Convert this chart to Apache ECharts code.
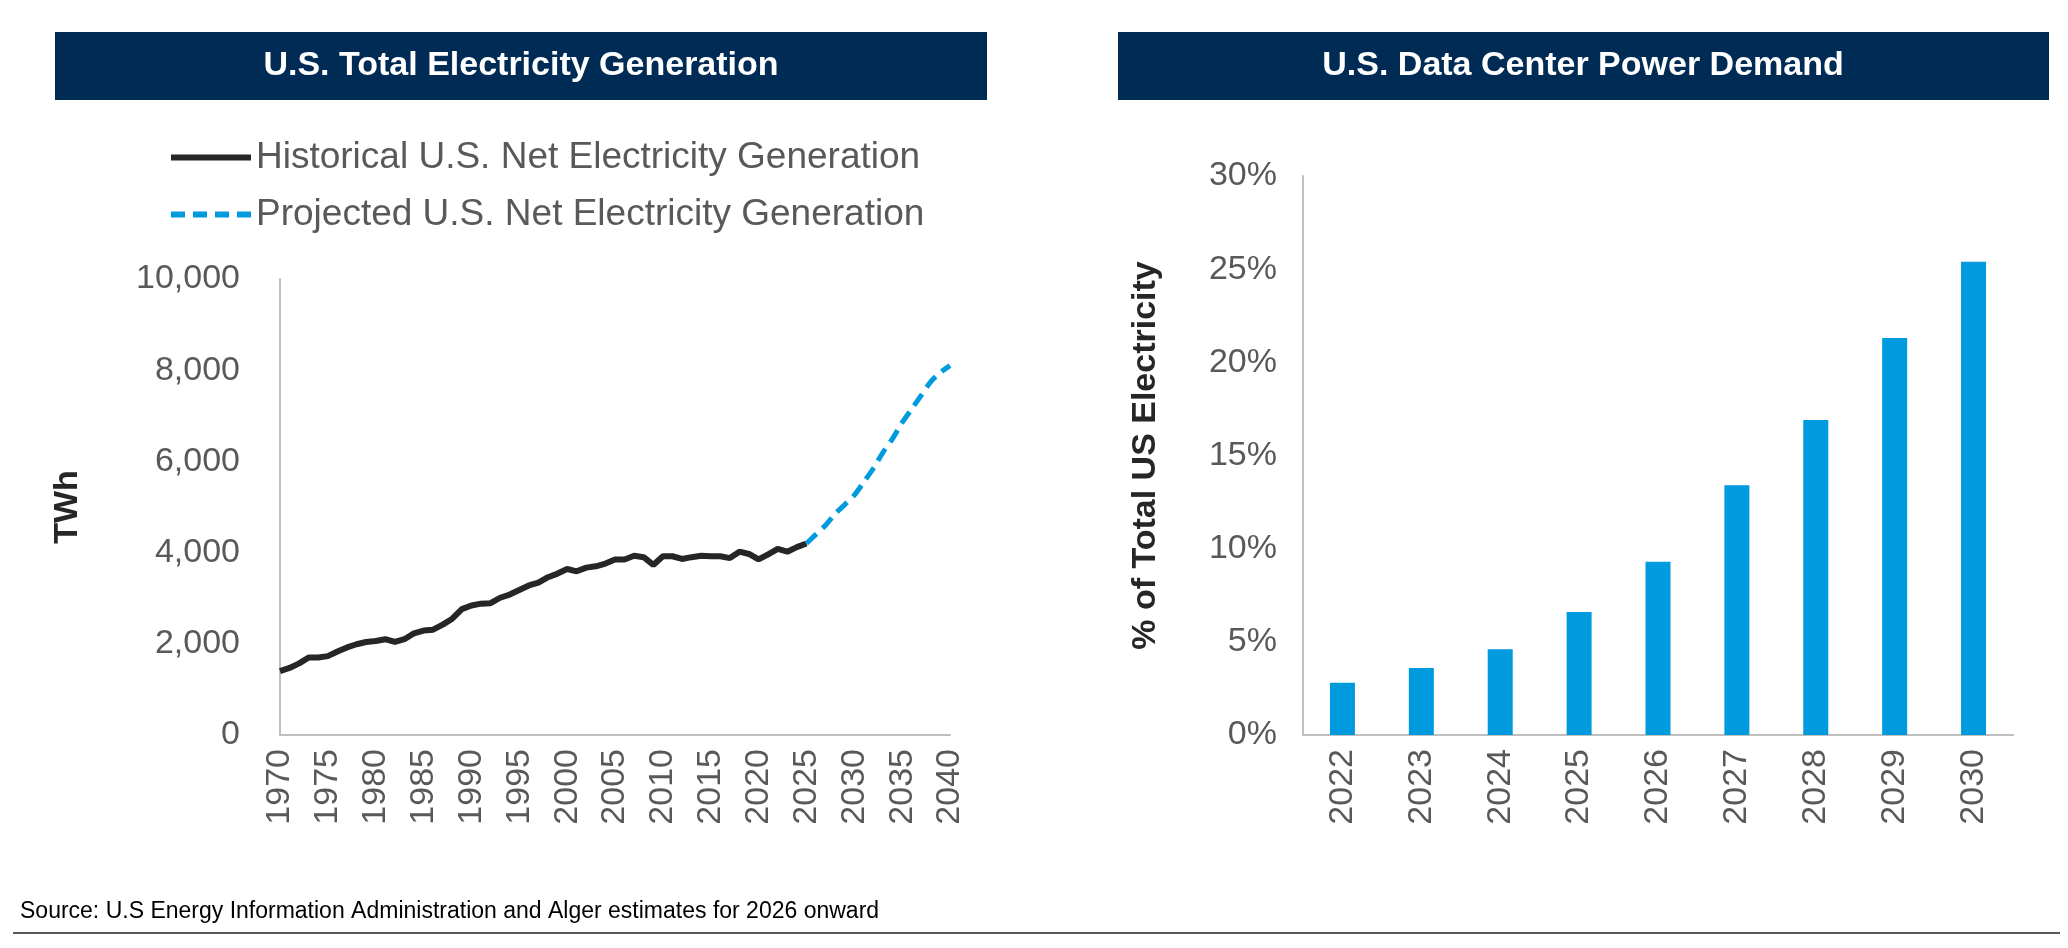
<!DOCTYPE html>
<html>
<head>
<meta charset="utf-8">
<script src="https://cdn.jsdelivr.net/npm/echarts@6/dist/echarts.min.js"></script>
<style>
html,body{margin:0;padding:0;background:#fff;}
#main{width:2068px;height:948px;}
</style>
</head>
<body>
<div id="main"></div>
<script>
// 历史发电量 (TWh)
var histYears = [1970,1971,1972,1973,1974,1975,1976,1977,1978,1979,1980,1981,1982,1983,1984,1985,1986,1987,1988,1989,1990,1991,1992,1993,1994,1995,1996,1997,1998,1999,2000,2001,2002,2003,2004,2005,2006,2007,2008,2009,2010,2011,2012,2013,2014,2015,2016,2017,2018,2019,2020,2021,2022,2023,2024,2025];
var histValues = [1400,1470,1570,1700,1700,1730,1830,1920,1990,2040,2060,2100,2040,2100,2230,2290,2310,2420,2550,2760,2840,2880,2890,3010,3080,3180,3280,3340,3460,3540,3640,3590,3670,3700,3760,3850,3850,3930,3900,3730,3920,3920,3860,3900,3930,3920,3920,3880,4020,3970,3850,3960,4080,4020,4120,4200];
// 预测发电量
var projYears = [2025,2026,2027,2028,2029,2030,2031,2032,2033,2034,2035,2036,2037,2038,2039,2040];
var projValues = [4200,4400,4600,4850,5050,5260,5550,5850,6200,6500,6850,7150,7450,7750,7950,8100];
// 数据中心用电占比 (%)
var dcYears = ['2022','2023','2024','2025','2026','2027','2028','2029','2030'];
var dcValues = [2.8,3.6,4.6,6.6,9.3,13.4,16.9,21.3,25.4];

function pairs(xs, ys){
	var out = [];
	for (var i = 0; i < xs.length; i++) out.push([xs[i], ys[i]]);
	return out;
}

var font = 'Liberation Sans, Arial, sans-serif';
var gray = '#595959';
var axisLine = {show: true, lineStyle: {color: '#bfbfbf', width: 2}};

var chart = echarts.init(document.getElementById('main'));
var option = {
	animation: false,
	textStyle: {fontFamily: font},
	graphic: [
		{type: 'rect', shape: {x: 55, y: 32, width: 932, height: 68}, style: {fill: '#002B55'}},
		{type: 'text', x: 521, y: 66, style: {text: 'U.S. Total Electricity Generation', fill: '#fff', font: 'bold 34px ' + font, textAlign: 'center', textVerticalAlign: 'middle'}},
		{type: 'rect', shape: {x: 1118, y: 32, width: 931, height: 68}, style: {fill: '#002B55'}},
		{type: 'text', x: 1583, y: 66, style: {text: 'U.S. Data Center Power Demand', fill: '#fff', font: 'bold 34px ' + font, textAlign: 'center', textVerticalAlign: 'middle'}},
		{type: 'text', x: 20, y: 912, style: {text: 'Source: U.S Energy Information Administration and Alger estimates for 2026 onward', fill: '#000', font: '23px ' + font, textVerticalAlign: 'middle'}},
		{type: 'rect', shape: {x: 13, y: 932, width: 2047, height: 2}, style: {fill: '#595959'}}
	],
	legend: {
		left: 166, top: 134, orient: 'vertical', itemGap: 20, itemWidth: 80, itemHeight: 6,
		textStyle: {fontSize: 37, color: gray, fontFamily: font},
		data: [
			{name: 'Historical U.S. Net Electricity Generation', icon: 'path://M0,0H80V6H0Z'},
			{name: 'Projected U.S. Net Electricity Generation', icon: 'path://M0,0H14V6H0ZM22,0H36V6H22ZM44,0H58V6H44ZM66,0H80V6H66Z'}
		]
	},
	grid: [
		{left: 280, top: 279, width: 670, height: 456},
		{left: 1303, top: 176, width: 710, height: 559}
	],
	xAxis: [
		{type: 'value', gridIndex: 0, min: 1970, max: 2040, interval: 5,
			axisLine: axisLine, axisTick: {show: false}, splitLine: {show: false},
			axisLabel: {rotate: 90, fontSize: 34, color: gray, margin: 14, fontFamily: font,
				formatter: function(v){ return String(v); }}},
		{type: 'category', gridIndex: 1, data: dcYears,
			axisLine: axisLine, axisTick: {show: false},
			axisLabel: {rotate: 90, fontSize: 34, color: gray, margin: 14, fontFamily: font}}
	],
	yAxis: [
		{type: 'value', gridIndex: 0, min: 0, max: 10000, interval: 2000,
			name: 'TWh', nameLocation: 'middle', nameGap: 195, nameRotate: 90,
			nameTextStyle: {fontSize: 34, fontWeight: 'bold', color: '#262626', fontFamily: font},
			axisLine: axisLine, axisTick: {show: false}, splitLine: {show: false},
			axisLabel: {fontSize: 34, color: gray, margin: 40, fontFamily: font,
				formatter: function(v){ return v.toLocaleString('en-US'); }}},
		{type: 'value', gridIndex: 1, min: 0, max: 30, interval: 5,
			name: '% of Total US Electricity', nameLocation: 'middle', nameGap: 140, nameRotate: 90,
			nameTextStyle: {fontSize: 34, fontWeight: 'bold', color: '#262626', fontFamily: font},
			axisLine: axisLine, axisTick: {show: false}, splitLine: {show: false},
			axisLabel: {fontSize: 34, color: gray, margin: 26, fontFamily: font, formatter: '{value}%'}}
	],
	series: [
		{name: 'Historical U.S. Net Electricity Generation', type: 'line', xAxisIndex: 0, yAxisIndex: 0,
			data: pairs(histYears, histValues), showSymbol: false,
			lineStyle: {color: '#262626', width: 6}, itemStyle: {color: '#262626'}},
		{name: 'Projected U.S. Net Electricity Generation', type: 'line', xAxisIndex: 0, yAxisIndex: 0,
			data: pairs(projYears, projValues), showSymbol: false, smooth: 0.3,
			lineStyle: {color: '#009ADE', width: 5, type: [14, 8]}, itemStyle: {color: '#009ADE'}},
		{type: 'bar', xAxisIndex: 1, yAxisIndex: 1, data: dcValues, barWidth: 25,
			itemStyle: {color: '#009ADE'}}
	]
};
chart.setOption(option);
</script>
</body>
</html>
